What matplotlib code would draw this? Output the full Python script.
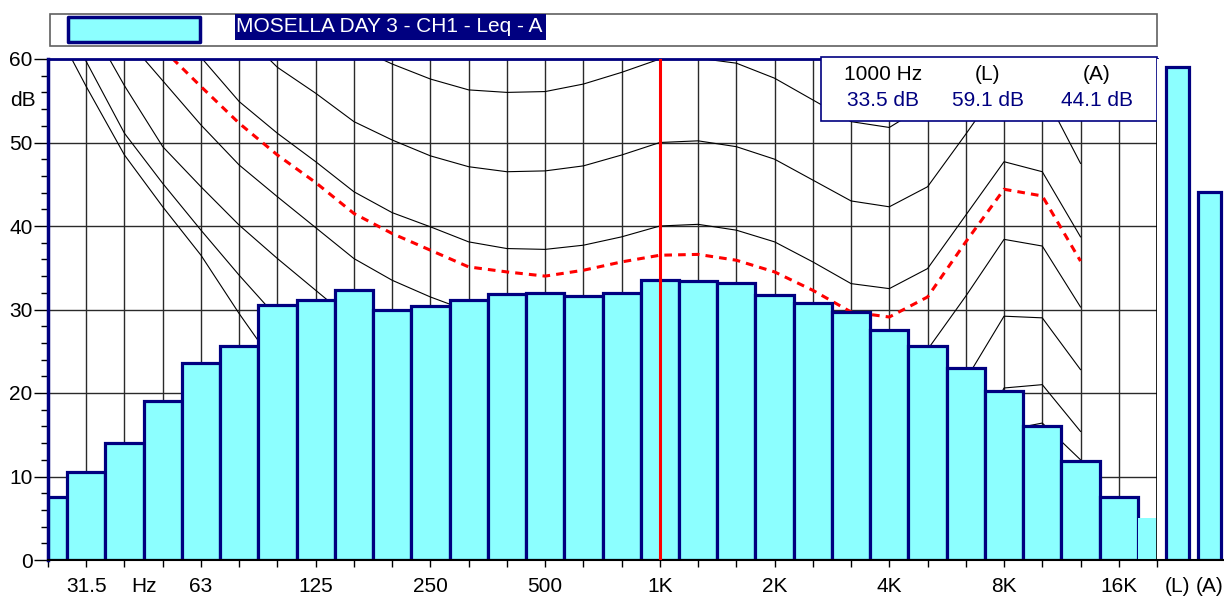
import numpy as np
import matplotlib
matplotlib.use('Agg')
import matplotlib.pyplot as plt
from matplotlib.patches import Rectangle

plt.rcParams['font.family'] = ['Liberation Sans', 'DejaVu Sans']

# 1/3 octave bands, 25 Hz .. 20 kHz
bands = ['25', '31.5', '40', '50', '63', '80', '100', '125', '160', '200',
         '250', '315', '400', '500', '630', '800', '1K', '1.25K', '1.6K', '2K',
         '2.5K', '3.15K', '4K', '5K', '6.3K', '8K', '10K', '12.5K', '16K', '20K']
levels = [7.5, 10.5, 14.0, 19.0, 23.6, 25.6, 30.5, 31.1, 32.3, 29.9,
          30.4, 31.1, 31.9, 32.0, 31.6, 32.0, 33.5, 33.4, 33.2, 31.7,
          30.8, 29.7, 27.6, 25.6, 23.0, 20.2, 16.0, 11.9, 7.5, 5.0]
tick_labels = {'31.5': '31.5', '63': '63', '125': '125', '250': '250', '500': '500',
               '1K': '1K', '2K': '2K', '4K': '4K', '8K': '8K', '16K': '16K'}
total_names = ['(L)', '(A)']
total_levels = [59.1, 44.1]
title = 'MOSELLA DAY 3 - CH1 - Leq - A'

# equal loudness contours, 25 Hz .. 12.5 kHz
contour_0 = [65.4, 56.7, 48.5, 42.3, 36.5, 29.5, 23.0, 18.0, 14.0, 11.0, 8.5, 6.5, 5.0, 3.5,
             2.0, 1.0, 0.0, 0.5, -0.5, -2.0, -4.0, -6.0, -6.0, -3.0, 5.0, 15.5, 16.4, 12.0]
contour_10 = [68.0, 59.7, 51.1, 45.1, 39.5, 34.1, 29.0, 24.5, 21.0, 18.0, 16.0, 14.0, 13.0, 11.5,
              10.8, 10.3, 10.0, 10.2, 9.5, 8.0, 6.0, 3.5, 3.0, 5.0, 12.0, 20.6, 21.0, 15.4]
contour_20 = [72.0, 64.9, 56.8, 49.5, 44.7, 40.1, 36.1, 32.3, 28.5, 25.5, 23.5, 22.0, 21.0, 20.6,
              20.4, 20.2, 20.0, 20.2, 19.5, 18.0, 15.8, 13.2, 12.6, 15.0, 21.6, 29.2, 29.0, 22.8]
contour_30 = [75.0, 68.5, 62.7, 57.4, 52.1, 47.3, 43.5, 39.8, 36.1, 33.5, 31.5, 29.8, 29.0, 28.8,
              29.0, 29.3, 30.0, 30.2, 29.5, 28.0, 25.7, 23.1, 22.5, 25.2, 31.6, 38.4, 37.6, 30.3]
contour_40 = [86.0, 80.0, 73.0, 66.0, 60.2, 54.9, 51.1, 47.7, 44.1, 41.6, 39.9, 38.1, 37.3, 37.2,
              37.7, 38.7, 40.0, 40.2, 39.5, 38.1, 35.7, 33.1, 32.5, 34.9, 41.3, 47.7, 46.5, 38.7]
contour_50 = [90.0, 84.0, 78.0, 73.0, 68.0, 63.5, 59.0, 55.9, 52.5, 50.3, 48.4, 47.1, 46.5, 46.6,
              47.2, 48.5, 50.0, 50.2, 49.5, 48.0, 45.5, 43.0, 42.3, 44.7, 51.0, 57.5, 56.3, 47.5]
contour_60 = [100.0, 95.0, 90.0, 85.0, 80.0, 75.0, 71.0, 67.0, 61.5, 59.4, 57.6, 56.3, 56.0, 56.1,
              57.0, 58.4, 60.0, 60.1, 59.5, 57.7, 55.1, 52.5, 51.8, 54.6, 61.0, 67.0, 66.0, 57.0]
loudness_curve = [76.0, 71.0, 66.0, 61.2, 56.7, 52.3, 48.5, 45.2, 41.5, 39.1, 37.1, 35.1, 34.5, 34.0,
                  34.7, 35.7, 36.5, 36.6, 35.9, 34.5, 32.3, 29.7, 29.1, 31.5, 38.1, 44.4, 43.6, 35.8]

W, H = 1224, 597
navy = '#000080'
cyan = '#8CFFFF'
fs = 15


def fx(px):
    return px / W


def fy(py):
    return 1 - py / H


fig = plt.figure(figsize=(W / 100, H / 100), dpi=100)
ax = fig.add_axes([fx(48), fy(560), fx(1157) - fx(48), fy(59) - fy(560)])

x = np.arange(len(bands)) - bands.index('1K')
ref = bands.index('1K')

# grid
ax.set_xlim(x[0], x[-1])
ax.set_ylim(0, 60)
ax.set_xticks(x)
ax.set_xticklabels([tick_labels.get(b, '') for b in bands])
ax.set_yticks(np.arange(0, 61, 10))
ax.set_yticks(np.arange(0, 61, 2), minor=True)
ax.grid(True, which='major', color='#2a2a2a', lw=1.0)
ax.set_axisbelow(True)

# contours
xc = x[:len(contour_0)]
for c in [contour_0, contour_10, contour_20, contour_30, contour_40, contour_50, contour_60]:
    ax.plot(xc, c, color='black', lw=0.8, zorder=1)
ax.plot(xc, loudness_curve, color='red', lw=2.2, dashes=(2.5, 2), zorder=1.5)

# spectrum bars
ax.bar(x[:-1], levels[:-1], width=1.0, color=cyan, edgecolor=navy, lw=2.3, zorder=2)
ax.bar(x[-1], levels[-1], width=1.0, color=cyan, edgecolor='none', zorder=2)

# cursor at 1 kHz
ax.axvline(x[ref], color='red', lw=2.2, zorder=3)

ax.tick_params(axis='x', which='major', length=5, width=1, pad=7, labelsize=fs,
               direction='out')
ax.tick_params(axis='y', which='major', length=10, width=1, pad=1, labelsize=fs)
ax.tick_params(axis='y', which='minor', length=5, width=1)
ax.annotate('Hz', xy=(-13.5, 0), xycoords=('data', 'axes fraction'), xytext=(0, -12),
            textcoords='offset points', ha='center', va='top', fontsize=fs)
ax.annotate('dB', xy=(0, 55), xycoords=('axes fraction', 'data'), xytext=(-9, 0),
            textcoords='offset points', ha='right', va='center', fontsize=fs)

for s in ['left', 'top']:
    ax.spines[s].set_color(navy)
ax.spines['left'].set_linewidth(2.5)
ax.spines['top'].set_linewidth(2)
ax.spines['right'].set_linewidth(1.2)
ax.spines['bottom'].set_linewidth(1.5)

# info box
box_l = (821 - 48) / 1109
box_b = (560 - 121) / 501
ax.add_patch(Rectangle((box_l, box_b), 1 - box_l, (560 - 57) / 501 - box_b,
                       transform=ax.transAxes, facecolor='white', edgecolor=navy,
                       lw=1.2, clip_on=False, zorder=10))
cols = [(883 - 48) / 1109, (988 - 48) / 1109, (1097 - 48) / 1109]
heads = ['1000 Hz'] + total_names
vals = [levels[ref]] + total_levels
for cx, hd, v in zip(cols, heads, vals):
    ax.text(cx, (560 - 75) / 501, hd, transform=ax.transAxes, ha='center', va='center',
            fontsize=fs, color='black', zorder=11)
    ax.text(cx, (560 - 101) / 501, f'{v:.1f} dB', transform=ax.transAxes, ha='center',
            va='center', fontsize=fs, color=navy, zorder=11)

# overall L and A bars
ax2 = fig.add_axes([fx(1157), fy(560), fx(1224) - fx(1157), fy(59) - fy(560)])
ax2.set_xlim(-0.64, 1.45)
ax2.set_ylim(0, 60)
ax2.bar([0, 1], total_levels, width=0.72, color=cyan, edgecolor=navy, lw=2.3)
ax2.set_xticks([0, 1])
ax2.set_xticklabels(total_names)
ax2.set_yticks([])
ax2.tick_params(axis='x', length=0, pad=12, labelsize=fs)
for s in ['left', 'top', 'right']:
    ax2.spines[s].set_visible(False)
ax2.spines['bottom'].set_linewidth(1.5)

# legend strip
fig.add_artist(Rectangle((fx(50), fy(46)), fx(1157) - fx(50), fy(14) - fy(46),
                         transform=fig.transFigure, facecolor='none', edgecolor='#606060', lw=1.2))
fig.add_artist(Rectangle((fx(68), fy(42)), fx(200) - fx(68), fy(17) - fy(42),
                         transform=fig.transFigure, facecolor=cyan, edgecolor=navy, lw=2.5,
                         joinstyle='round'))
fig.add_artist(Rectangle((fx(235), fy(40)), fx(546) - fx(235), fy(14) - fy(40),
                         transform=fig.transFigure, facecolor=navy, edgecolor='none'))
fig.text(fx(236), fy(27), title, color='white', fontsize=fs, ha='left', va='center')

fig.savefig('out.png', dpi=100)
